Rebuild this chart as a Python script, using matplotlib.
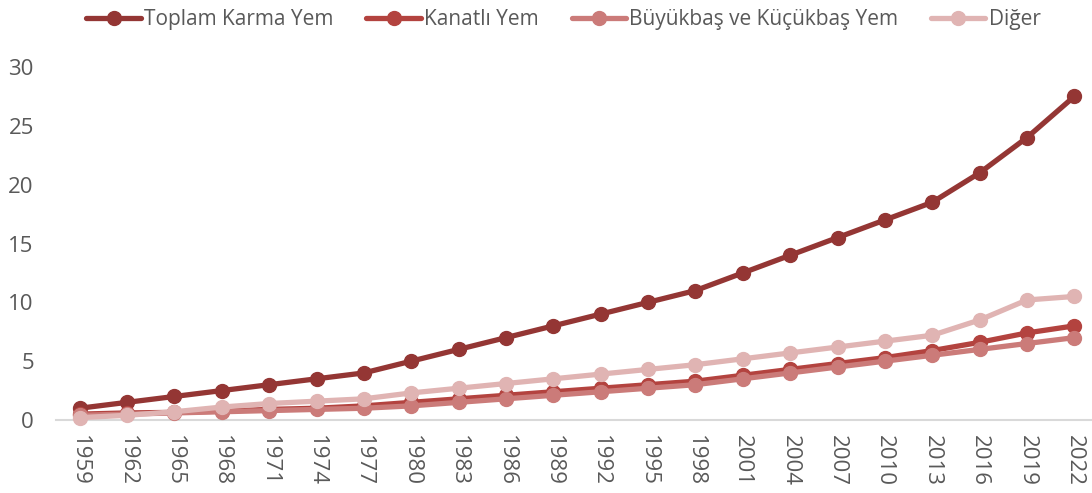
import matplotlib.pyplot as plt

plt.rcParams['font.family'] = ['Open Sans', 'DejaVu Sans']

years = [str(y) for y in range(1959, 2023, 3)]
toplam = [1.0, 1.5, 2.0, 2.5, 3.0, 3.5, 4.0, 5.0, 6.0, 7.0, 8.0,
          9.0, 10.0, 11.0, 12.5, 14.0, 15.5, 17.0, 18.5, 21.0, 24.0, 27.5]
kanatli = [0.5, 0.6, 0.65, 0.75, 0.9, 1.0, 1.2, 1.5, 1.8, 2.1, 2.4,
           2.7, 3.0, 3.3, 3.8, 4.3, 4.8, 5.3, 5.9, 6.6, 7.4, 8.0]
buyukbas = [0.4, 0.5, 0.6, 0.7, 0.8, 0.9, 1.0, 1.2, 1.5, 1.8, 2.1,
            2.4, 2.7, 3.0, 3.5, 4.0, 4.5, 5.0, 5.5, 6.0, 6.5, 7.0]
diger = [0.2, 0.4, 0.7, 1.1, 1.4, 1.6, 1.8, 2.3, 2.7, 3.1, 3.5,
         3.9, 4.3, 4.7, 5.2, 5.7, 6.2, 6.7, 7.2, 8.5, 10.2, 10.5]

names = ['Toplam Karma Yem', 'Kanatlı Yem', 'Büyükbaş ve Küçükbaş Yem', 'Diğer']
colors = ['#943634', '#b3433f', '#cb7b79', '#e0b4b3']

fig = plt.figure(figsize=(10.92, 4.93), dpi=100)
ax = fig.add_axes([56 / 1092, 73 / 493, 1042 / 1092, 353 / 493])

x = range(len(years))
for name, values, color in zip(names, [toplam, kanatli, buyukbas, diger], colors):
    ax.plot(x, values, color=color, lw=3.8, marker='o', ms=10,
            label=name, clip_on=False, solid_capstyle='round')

ax.set_xlim(-0.5, len(years) - 0.5)
ax.set_ylim(0, 30)
ax.set_yticks(range(0, 31, 5))
ax.set_xticks(list(x))
ax.set_xticklabels(years, rotation=-90)
ax.tick_params(axis='both', length=0, labelsize=16, colors='#595959')
ax.tick_params(axis='y', pad=16)
ax.tick_params(axis='x', pad=11)

for side in ['top', 'right', 'left']:
    ax.spines[side].set_visible(False)
ax.spines['bottom'].set_color('#d9d9d9')
ax.spines['bottom'].set_linewidth(1.5)
ax.spines['bottom'].set_zorder(0)

fig.legend(loc='upper center', bbox_to_anchor=(0.516, 1.02), ncol=4, frameon=False,
           fontsize=15, labelcolor='#595959', handlelength=2.6,
           columnspacing=1.6, handletextpad=0.15)

plt.savefig('out.png', dpi=100)
